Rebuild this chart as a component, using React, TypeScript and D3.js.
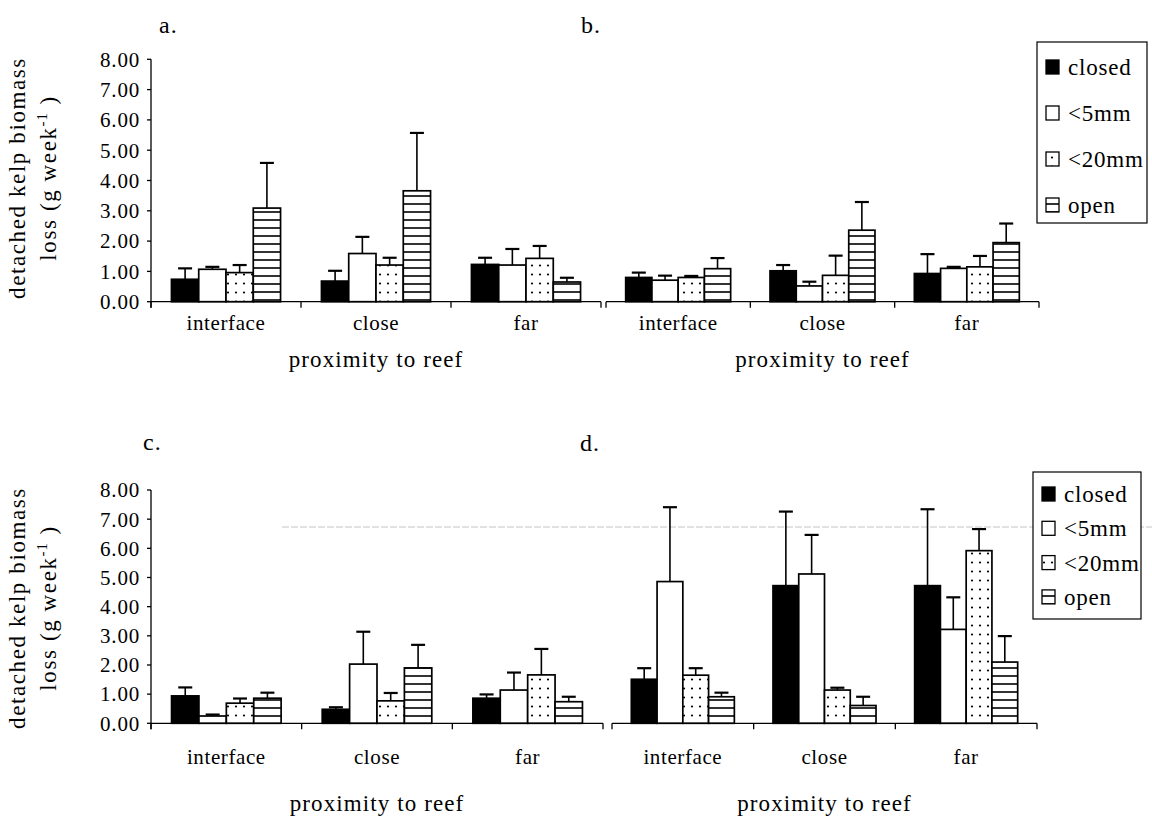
import React from "react";
import * as d3 from "d3";

// Proximity-to-reef categories and mesh treatments
const categories = ["interface", "close", "far"];
const treatments = ["closed", "<5mm", "<20mm", "open"];
const yTicks = [0, 1, 2, 3, 4, 5, 6, 7, 8];

// Mean detached kelp biomass loss (g week^-1), rows = category, cols = treatment
const meanA = [
  [0.74, 1.07, 0.96, 3.09],
  [0.68, 1.59, 1.21, 3.66],
  [1.23, 1.21, 1.43, 0.65],
];
const errA = [
  [0.36, 0.08, 0.25, 1.49],
  [0.34, 0.55, 0.24, 1.91],
  [0.22, 0.53, 0.41, 0.14],
];

const meanB = [
  [0.8, 0.71, 0.8, 1.09],
  [1.02, 0.52, 0.87, 2.36],
  [0.93, 1.1, 1.15, 1.95],
];
const errB = [
  [0.16, 0.15, 0.05, 0.35],
  [0.19, 0.14, 0.65, 0.93],
  [0.64, 0.05, 0.36, 0.63],
];

const meanC = [
  [0.94, 0.25, 0.69, 0.86],
  [0.48, 2.03, 0.77, 1.9],
  [0.86, 1.14, 1.66, 0.74],
];
const errC = [
  [0.29, 0.05, 0.16, 0.19],
  [0.07, 1.11, 0.27, 0.79],
  [0.13, 0.6, 0.89, 0.17],
];

const meanD = [
  [1.51, 4.86, 1.65, 0.91],
  [4.72, 5.12, 1.14, 0.61],
  [4.72, 3.22, 5.92, 2.1],
];
const errD = [
  [0.38, 2.55, 0.24, 0.14],
  [2.54, 1.34, 0.08, 0.3],
  [2.62, 1.1, 0.74, 0.89],
];

const FONT = "'Liberation Serif', 'Times New Roman', Tinos, Times, 'DejaVu Serif', serif";

const fills: Record<string, string> = {
  closed: "#000",
  "<5mm": "#fff",
  "<20mm": "url(#dots)",
  open: "url(#hlines)",
};

type PanelCfg = {
  label: string;
  mean: number[][];
  err: number[][];
  x0: number;
  x1: number;
  yBase: number;
  yTop: number;
  yAxis: boolean;
  labelPos: [number, number];
  catY: number;
  titleY: number;
  legend: null | { x: number; y: number; w: number; h: number; first: number; step: number };
  yTitle: null | { cy: number };
};

const panels: PanelCfg[] = [
  {
    label: "a.", mean: meanA, err: errA, x0: 151, x1: 601, yBase: 301.7, yTop: 59.3,
    yAxis: true, labelPos: [159, 33], catY: 330, titleY: 367, legend: null, yTitle: { cy: 178 },
  },
  {
    label: "b.", mean: meanB, err: errB, x0: 606, x1: 1039, yBase: 301.7, yTop: 59.3,
    yAxis: false, labelPos: [581, 33], catY: 330, titleY: 367,
    legend: { x: 1037, y: 42, w: 110, h: 181, first: 67, step: 46 }, yTitle: null,
  },
  {
    label: "c.", mean: meanC, err: errC, x0: 151, x1: 603, yBase: 723.3, yTop: 490,
    yAxis: true, labelPos: [143, 450], catY: 764, titleY: 811, legend: null, yTitle: { cy: 608 },
  },
  {
    label: "d.", mean: meanD, err: errD, x0: 612, x1: 1037, yBase: 723.3, yTop: 490,
    yAxis: false, labelPos: [580, 451], catY: 764, titleY: 811,
    legend: { x: 1033, y: 472, w: 108, h: 147, first: 494, step: 34.3 }, yTitle: null,
  },
];

const txt = (size: number, spacing: number): React.CSSProperties => ({
  fontFamily: FONT,
  fontSize: size,
  letterSpacing: spacing,
});

function Panel({ p }: { p: PanelCfg }) {
  const x = d3.scaleBand<string>().domain(categories).range([p.x0, p.x1]).padding(0);
  const inner = d3
    .scaleBand<string>()
    .domain(treatments)
    .range([0, x.bandwidth()])
    .paddingInner(0)
    .paddingOuter(0.75);
  const y = d3.scaleLinear().domain([0, 8]).range([p.yBase, p.yTop]);
  const bw = inner.bandwidth();
  const capW = 14;
  const boundaries = [p.x0, ...categories.map((c) => (x(c) as number) + x.bandwidth())];

  return (
    <g>
      <text x={p.labelPos[0]} y={p.labelPos[1]} style={txt(24, 1)}>
        {p.label}
      </text>

      {/* bars with upper error bars */}
      {categories.map((c, ci) =>
        treatments.map((t, ti) => {
          const v = p.mean[ci][ti];
          const e = p.err[ci][ti];
          const bx = (x(c) as number) + (inner(t) as number);
          const cx = bx + bw / 2;
          return (
            <g key={c + t}>
              <line x1={cx} x2={cx} y1={y(v)} y2={y(v + e)} stroke="#000" strokeWidth={1.6} />
              <line x1={cx - capW / 2} x2={cx + capW / 2} y1={y(v + e)} y2={y(v + e)} stroke="#000" strokeWidth={2.2} />
              <rect
                x={bx}
                y={y(v)}
                width={bw}
                height={y(0) - y(v)}
                fill={fills[t]}
                stroke="#000"
                strokeWidth={1.7}
              />
            </g>
          );
        })
      )}

      {/* category axis */}
      <line x1={p.x0} x2={p.x1} y1={p.yBase} y2={p.yBase} stroke="#000" strokeWidth={1.3} />
      {boundaries.map((bx, i) => (
        <line key={i} x1={bx} x2={bx} y1={p.yBase} y2={p.yBase + 6} stroke="#000" strokeWidth={1.3} />
      ))}
      {categories.map((c) => (
        <text
          key={c}
          x={(x(c) as number) + x.bandwidth() / 2}
          y={p.catY}
          textAnchor="middle"
          style={txt(21, 0.6)}
        >
          {c}
        </text>
      ))}
      <text x={(p.x0 + p.x1) / 2} y={p.titleY} textAnchor="middle" style={txt(23, 1.1)}>
        proximity to reef
      </text>

      {/* value axis */}
      {p.yAxis && (
        <g>
          <line x1={p.x0} x2={p.x0} y1={y(8)} y2={p.yBase + 6} stroke="#000" strokeWidth={1.3} />
          {yTicks.map((t) => (
            <g key={t}>
              <line x1={p.x0 - 4} x2={p.x0} y1={y(t)} y2={y(t)} stroke="#000" strokeWidth={1.3} />
              <text x={p.x0 - 11} y={y(t)} dy="0.35em" textAnchor="end" style={txt(21, 0.8)}>
                {d3.format(".2f")(t)}
              </text>
            </g>
          ))}
        </g>
      )}
      {p.yTitle && (
        <g style={txt(23, 1.6)}>
          <text transform={`translate(25,${p.yTitle.cy}) rotate(-90)`} textAnchor="middle">
            detached kelp biomass
          </text>
          <text transform={`translate(56,${p.yTitle.cy}) rotate(-90)`} textAnchor="middle">
            loss (g week
            <tspan dy={-9} style={{ fontSize: 15, letterSpacing: 1 }}>
              -1
            </tspan>
            <tspan dy={9}> )</tspan>
          </text>
        </g>
      )}

      {/* legend */}
      {p.legend && (
        <g>
          <rect
            x={p.legend.x}
            y={p.legend.y}
            width={p.legend.w}
            height={p.legend.h}
            fill="#fff"
            stroke="#000"
            strokeWidth={1.2}
          />
          {treatments.map((t, i) => {
            const cy = p.legend!.first + i * p.legend!.step;
            return (
              <g key={t}>
                <rect x={p.legend!.x + 9} y={cy - 7} width={13} height={14} fill={fills[t]} stroke="#000" strokeWidth={1.3} />
                <text x={p.legend!.x + 31} y={cy} dy="0.35em" style={txt(23, 0.8)}>
                  {t}
                </text>
              </g>
            );
          })}
        </g>
      )}
    </g>
  );
}

export default function App() {
  return (
    <svg
      width={1152}
      height={820}
      viewBox="0 0 1152 820"
      style={{ position: "absolute", left: 0, top: 0, background: "#fff" }}
    >
      <defs>
        <pattern id="dots" width={8} height={9} patternUnits="userSpaceOnUse">
          <rect width={8} height={9} fill="#fff" />
          <circle cx={4} cy={4.5} r={1.1} fill="#000" />
        </pattern>
        <pattern id="hlines" width={8} height={8} patternUnits="userSpaceOnUse">
          <rect width={8} height={8} fill="#fff" />
          <rect x={0} y={3.2} width={8} height={1.6} fill="#000" />
        </pattern>
      </defs>
      <rect width={1152} height={820} fill="#fff" />
      {/* faint scan line across the lower row */}
      <line x1={282} x2={1152} y1={527} y2={527} stroke="#c4c4c4" strokeWidth={1} strokeDasharray="7 2" />
      {panels.map((p) => (
        <Panel key={p.label} p={p} />
      ))}
    </svg>
  );
}
